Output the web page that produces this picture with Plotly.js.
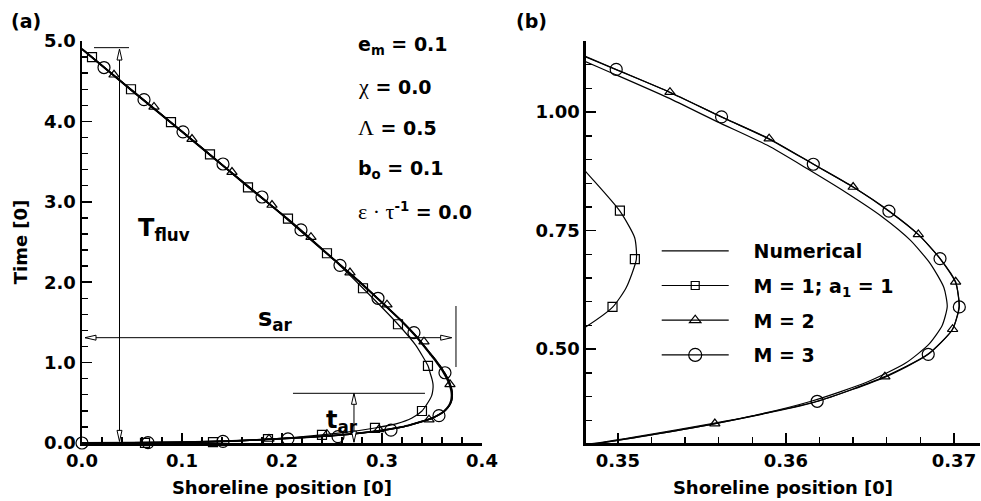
<!DOCTYPE html>
<html><head><meta charset="utf-8">
<script src="https://cdn.plot.ly/plotly-3.0.1.min.js"></script>
<style>html,body{margin:0;padding:0;background:#fff}#plot{width:981px;height:501px}</style>
</head><body><div id="plot"></div>
<script>
// ---------- line data (shoreline position x, time t) ----------
const numX = [0, 0.05, 0.10, 0.15, 0.20, 0.25, 0.28, 0.30, 0.32, 0.335, 0.3481, 0.3498, 0.3530, 0.3559, 0.3589, 0.3613, 0.3636, 0.3657, 0.3674, 0.3686, 0.3694, 0.3696, 0.3693, 0.3685, 0.3671, 0.3648, 0.3615, 0.3581, 0.3535, 0.3483, 0.340, 0.330, 0.320, 0.300, 0.280, 0.250, 0.200, 0.150, 0.100, 0.050, 0];
const numT = [4.90, 4.38, 3.87, 3.355, 2.84, 2.30, 1.975, 1.745, 1.51, 1.31, 1.106, 1.080, 1.030, 0.980, 0.930, 0.880, 0.830, 0.780, 0.730, 0.680, 0.630, 0.590, 0.550, 0.510, 0.470, 0.430, 0.390, 0.360, 0.330, 0.300, 0.268, 0.232, 0.200, 0.158, 0.126, 0.091, 0.054, 0.026, 0.010, 0.004, 0];

const m1X = [0, 0.010, 0.049, 0.089, 0.128, 0.166, 0.206, 0.245, 0.281, 0.316, 0.3335, 0.3460, 0.3481, 0.3501, 0.3510, 0.3511, 0.3505, 0.3497, 0.3481, 0.3440, 0.3400, 0.3300, 0.3150, 0.2930, 0.2650, 0.2400, 0.2130, 0.1860, 0.1580, 0.1310, 0.0950, 0.0630, 0.0300, 0];
const m1T = [4.90, 4.80, 4.40, 3.99, 3.59, 3.18, 2.79, 2.36, 1.925, 1.477, 1.22, 0.96, 0.874, 0.792, 0.735, 0.690, 0.630, 0.589, 0.547, 0.465, 0.398, 0.310, 0.240, 0.187, 0.135, 0.100, 0.070, 0.048, 0.025, 0.012, 0.005, 0.002, 0.0005, 0];

const m2X = [0, 0.05, 0.10, 0.15, 0.20, 0.25, 0.28, 0.30, 0.32, 0.335, 0.3481, 0.3500, 0.3531, 0.3562, 0.3590, 0.3617, 0.3640, 0.3662, 0.36788, 0.3692, 0.37010, 0.3703, 0.36992, 0.3684, 0.36589, 0.3618, 0.35577, 0.3488, 0.340, 0.330, 0.320, 0.300, 0.280, 0.250, 0.200, 0.150, 0.100, 0.050, 0];
const m2T = [4.90, 4.383, 3.872, 3.358, 2.843, 2.303, 1.978, 1.748, 1.513, 1.318, 1.116, 1.088, 1.042, 0.989, 0.944, 0.889, 0.842, 0.790, 0.742, 0.690, 0.642, 0.590, 0.542, 0.488, 0.442, 0.389, 0.343, 0.301, 0.267, 0.231, 0.199, 0.157, 0.125, 0.090, 0.053, 0.025, 0.009, 0.003, 0];

const m3X = [0, 0.05, 0.10, 0.15, 0.20, 0.25, 0.28, 0.30, 0.32, 0.335, 0.3481, 0.3499, 0.3530, 0.35617, 0.3590, 0.36163, 0.3641, 0.36613, 0.3679, 0.36917, 0.3701, 0.37032, 0.3699, 0.36847, 0.3659, 0.36186, 0.3558, 0.3489, 0.340, 0.330, 0.320, 0.300, 0.280, 0.250, 0.200, 0.150, 0.100, 0.050, 0];
const m3T = [4.90, 4.385, 3.875, 3.36, 2.845, 2.305, 1.98, 1.75, 1.515, 1.32, 1.117, 1.090, 1.043, 0.990, 0.943, 0.890, 0.840, 0.791, 0.741, 0.691, 0.640, 0.589, 0.541, 0.489, 0.441, 0.390, 0.343, 0.302, 0.268, 0.232, 0.200, 0.160, 0.128, 0.093, 0.055, 0.026, 0.010, 0.004, 0];

// ---------- symbols, panel (a) ----------
const sqA_X = [0.010, 0.049, 0.089, 0.128, 0.166, 0.206, 0.245, 0.281, 0.316, 0.346, 0.340, 0.293, 0.240, 0.186, 0.131, 0.063];
const sqA_T = [4.80, 4.40, 3.99, 3.59, 3.18, 2.79, 2.36, 1.925, 1.477, 0.96, 0.398, 0.187, 0.100, 0.048, 0.012, 0.002];
const trA_X = [0.032, 0.072, 0.110, 0.150, 0.190, 0.229, 0.268, 0.305, 0.342, 0.368, 0.347, 0.297, 0.245, 0.187];
const trA_T = [4.58, 4.18, 3.78, 3.37, 2.96, 2.56, 2.12, 1.72, 1.26, 0.73, 0.29, 0.17, 0.11, 0.05];
const ciA_X = [0.022, 0.062, 0.101, 0.141, 0.180, 0.219, 0.258, 0.296, 0.332, 0.363, 0.357, 0.309, 0.256, 0.206, 0.141, 0.066, 0.0];
const ciA_T = [4.67, 4.27, 3.87, 3.47, 3.06, 2.65, 2.21, 1.80, 1.372, 0.874, 0.34, 0.16, 0.08, 0.052, 0.02, 0.005, 0.0];

// ---------- symbols, panel (b) ----------
const sqB_X = [0.35012, 0.35101, 0.34968];
const sqB_T = [0.792, 0.690, 0.589];
const trB_X = [0.3531, 0.3590, 0.3640, 0.36788, 0.37010, 0.36992, 0.36589, 0.35577];
const trB_T = [1.042, 0.944, 0.842, 0.742, 0.642, 0.542, 0.442, 0.343];
const ciB_X = [0.3499, 0.35617, 0.36163, 0.36613, 0.36917, 0.37032, 0.36847, 0.36186];
const ciB_T = [1.090, 0.990, 0.890, 0.791, 0.691, 0.589, 0.489, 0.390];

const seriesNames = ['Numerical', 'M = 1; a<sub>1</sub> = 1', 'M = 2', 'M = 3'];
const paramLabels = [
  'e<sub>m</sub> = 0.1',
  '<span style="font-family:Liberation Serif;font-weight:normal;font-size:22px">χ</span> = 0.0',
  '<span style="font-family:Liberation Serif;font-weight:normal;font-size:22px">Λ</span> = 0.5',
  'b<sub>o</sub> = 0.1',
  '<span style="font-family:Liberation Serif;font-weight:normal;font-size:22px">ε · τ</span><sup>-1</sup> = 0.0'
];

// ---------- traces ----------
const K = 'black';
const sp = {shape: 'spline', smoothing: 0.6};
const GAP = '\u00A0\u00A0\u00A0';
const traces = [];
// legend entries
traces.push({x:[null], y:[null], xaxis:'x2', yaxis:'y2', mode:'lines', name:GAP + seriesNames[0], legendgroup:'g1', line:{color:K, width:1.2}});
traces.push({x:[null], y:[null], xaxis:'x2', yaxis:'y2', mode:'lines+markers', name:GAP + seriesNames[1], legendgroup:'g2', line:{color:K, width:1.2}, marker:{symbol:'square-open', size:8, color:K, line:{width:1.2}}});
traces.push({x:[null], y:[null], xaxis:'x2', yaxis:'y2', mode:'lines+markers', name:GAP + seriesNames[2], legendgroup:'g3', line:{color:K, width:1.2}, marker:{symbol:'triangle-up-open', size:10, color:K, line:{width:1.2}}});
traces.push({x:[null], y:[null], xaxis:'x2', yaxis:'y2', mode:'lines+markers', name:GAP + seriesNames[3], legendgroup:'g4', line:{color:K, width:1.2}, marker:{symbol:'circle-open', size:13, color:K, line:{width:1.2}}});

function line(x, y, ax, w) {
  return {x:x, y:y, xaxis:ax[0], yaxis:ax[1], mode:'lines', showlegend:false, hoverinfo:'skip', line:Object.assign({color:K, width:w}, sp)};
}
function marks(x, y, ax, sym, size) {
  return {x:x, y:y, xaxis:ax[0], yaxis:ax[1], mode:'markers', showlegend:false, hoverinfo:'skip', cliponaxis:false, marker:{symbol:sym, size:size, color:K, line:{width:1.2, color:K}}};
}
const A = ['x','y'], B = ['x2','y2'];
traces.push(line(numX, numT, A, 1.8), line(m1X, m1T, A, 1.2), line(m2X, m2T, A, 1.5), line(m3X, m3T, A, 1.5));
traces.push(marks(sqA_X, sqA_T, A, 'square-open', 9), marks(trA_X, trA_T, A, 'triangle-up-open', 9), marks(ciA_X, ciA_T, A, 'circle-open', 12));
traces.push(line(numX, numT, B, 1.2), line(m1X, m1T, B, 1.2), line(m2X, m2T, B, 1.2), line(m3X, m3T, B, 1.2));
traces.push(marks(sqB_X, sqB_T, B, 'square-open', 9), marks(trB_X, trB_T, B, 'triangle-up-open', 9), marks(ciB_X, ciB_T, B, 'circle-open', 12));

// ---------- axes ----------
const FONT = 'DejaVu Sans, Liberation Sans, Arial, sans-serif';
function axis(extra) {
  return Object.assign({
    showline:true, linewidth:2.5, linecolor:K, mirror:false, zeroline:false, showgrid:false,
    ticks:'inside', ticklen:10, tickwidth:1.6, tickcolor:K,
    tickfont:{family:FONT, size:18, color:K, weight:'bold'},
    fixedrange:true
  }, extra);
}
const titleFont = {family:FONT, size:18, color:K, weight:'bold'};

// ---------- annotation shapes (arrows) ----------
const shp = [];
function seg(x0, y0, x1, y1) { shp.push({type:'line', xref:'x', yref:'y', x0:x0, y0:y0, x1:x1, y1:y1, line:{color:K, width:1}}); }
function head(x, y, dir) {
  const p = {up:'M0,0 L-2.5,-11 L2.5,-11 Z', down:'M0,0 L-2.5,11 L2.5,11 Z', left:'M0,0 L11,2.5 L11,-2.5 Z', right:'M0,0 L-11,2.5 L-11,-2.5 Z'}[dir];
  shp.push({type:'path', xref:'x', yref:'y', xsizemode:'pixel', ysizemode:'pixel', xanchor:x, yanchor:y, path:p, fillcolor:'white', line:{color:K, width:1}});
}
// T_fluv
seg(0.012, 4.917, 0.047, 4.917);
seg(0.0375, 4.90, 0.0375, 0.02);
head(0.0375, 4.90, 'up'); head(0.0375, 0.02, 'down');
// s_ar
seg(0.003, 1.31, 0.3697, 1.31);
head(0.003, 1.31, 'left'); head(0.3697, 1.31, 'right');
seg(0.374, 1.704, 0.374, 0.945);
// t_ar
seg(0.211, 0.618, 0.343, 0.618);
seg(0.272, 0.618, 0.272, 0.01);
head(0.272, 0.618, 'up'); head(0.272, 0.01, 'down');

// ---------- text annotations ----------
const ann = [];
const bold = (s) => ({family:FONT, size:s, color:K, weight:'bold'});
ann.push({xref:'paper', yref:'paper', x:-0.0624, y:1.050, xanchor:'center', yanchor:'middle', text:'(a)', showarrow:false, font:bold(19)});
ann.push({xref:'paper', yref:'paper', x:0.500, y:1.050, xanchor:'center', yanchor:'middle', text:'(b)', showarrow:false, font:bold(19)});
const pY = [4.94, 4.43, 3.93, 3.40, 2.88];
paramLabels.forEach((t, i) => ann.push({xref:'x', yref:'y', x:0.274, y:pY[i], xanchor:'left', yanchor:'middle', text:t, showarrow:false, font:bold(19)}));
ann.push({xref:'x', yref:'y', x:0.054, y:2.66, xanchor:'left', yanchor:'middle', text:'T<sub>fluv</sub>', showarrow:false, font:bold(24)});
ann.push({xref:'x', yref:'y', x:0.174, y:1.53, xanchor:'left', yanchor:'middle', text:'s<sub>ar</sub>', showarrow:false, font:bold(24)});
ann.push({xref:'x', yref:'y', x:0.242, y:0.27, xanchor:'left', yanchor:'middle', text:'t<sub>ar</sub>', showarrow:false, font:bold(24)});

const layout = {
  width:981, height:501,
  margin:{l:82, r:1, t:41, b:58},
  paper_bgcolor:'white', plot_bgcolor:'white',
  font:{family:FONT, color:K},
  showlegend:true,
  legend:{x:0.640, y:0.525, xanchor:'left', yanchor:'top', bgcolor:'rgba(0,0,0,0)', borderwidth:0,
          font:bold(19), itemwidth:67, traceorder:'grouped', tracegroupgap:7, itemclick:false, itemdoubleclick:false},
  xaxis: axis({domain:[0, 0.4454], range:[0, 0.4], tick0:0, dtick:0.1, tickformat:'.1f', anchor:'y',
               minor:{dtick:0.02, ticks:'inside', ticklen:6, tickwidth:1.4, tickcolor:K, showgrid:false},
               title:{text:'Shoreline position [0]', font:titleFont, standoff:12}}),
  yaxis: axis({domain:[0, 1], range:[0, 5], tick0:0, dtick:1, tickformat:'.1f', anchor:'x',
               minor:{dtick:0.2, ticks:'inside', ticklen:6, tickwidth:1.4, tickcolor:K, showgrid:false},
               title:{text:'Time [0]', font:titleFont, standoff:12}}),
  xaxis2: axis({domain:[0.5612, 1], range:[0.3481, 0.37155], tick0:0, dtick:0.01, tickformat:'.2f', anchor:'y2',
               minor:{dtick:0.002, ticks:'inside', ticklen:6, tickwidth:1.4, tickcolor:K, showgrid:false},
               title:{text:'Shoreline position [0]', font:titleFont, standoff:12}}),
  yaxis2: axis({domain:[0, 1], range:[0.302, 1.150], tick0:0, dtick:0.25, tickformat:'.2f', anchor:'x2',
               minor:{dtick:0.05, ticks:'inside', ticklen:6, tickwidth:1.4, tickcolor:K, showgrid:false}}),
  shapes: shp,
  annotations: ann
};

Plotly.newPlot('plot', traces, layout, {staticPlot:true, displayModeBar:false});
</script></body></html>
